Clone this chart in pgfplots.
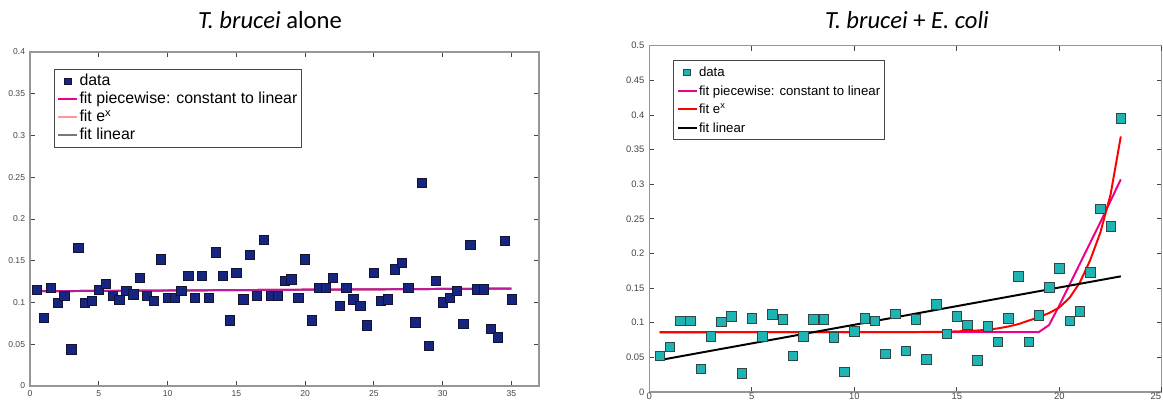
\documentclass[border=0pt]{standalone}
\usepackage{fontspec}
\setmainfont{Liberation Sans}
\newfontfamily\titlefont{Carlito}
\usepackage{pgfplots}
\pgfplotsset{compat=1.18}

\definecolor{axgray}{RGB}{150,150,150}
\definecolor{labgray}{RGB}{70,70,70}
\definecolor{navyfill}{RGB}{22,38,128}
\definecolor{navyedge}{RGB}{20,20,50}
\definecolor{tealfill}{RGB}{30,180,180}
\definecolor{tealedge}{RGB}{50,70,70}
\definecolor{fitmix}{RGB}{188,28,152}
\definecolor{fitpink}{RGB}{255,150,150}
\definecolor{fitgray}{RGB}{120,120,120}
\definecolor{fitred}{RGB}{255,0,0}

\pgfplotsset{
  matlab/.style={
    scale only axis,
    axis line style={draw=axgray, line width=0.8pt},
    tick style={draw=labgray, line width=0.6pt},
    major tick length=0.12cm,
    tick align=inside,
    every tick label/.append style={text=labgray},
    /pgf/number format/assume math mode=true,
    /pgf/number format/fixed,
    /pgf/number format/precision=2,
    scaled ticks=false,
    legend cell align=left,
    legend style={draw=labgray, line width=0.6pt, inner sep=2pt},
    legend image code/.code={\draw[#1] (0cm,0cm) -- (0.475cm,0cm);},
  },
  datalegend/.style={legend image code/.code={%
    \draw[#1,mark size=2.4pt] plot coordinates {(0.2375cm,0cm)};}},
}

\begin{document}
\begin{tikzpicture}

% ---- left: T. brucei alone
\begin{axis}[matlab,
  at={(0.75cm,0.4cm)}, anchor=south west,
  width=12.725cm, height=8.35cm,
  xmin=0, xmax=37, ymin=0, ymax=0.4,
  xtick={0,5,...,35},
  ytick={0,0.05,...,0.4},
  tick label style={font=\fontsize{6.1}{7}\selectfont},
  legend style={at={(0.047,0.949)}, anchor=north west,
    font=\fontsize{11.3}{12.8}\selectfont,
    nodes={inner sep=1pt, text height=8.6pt, text depth=2.2pt}},
]
\addplot[only marks, mark=square*, mark size=3.3pt,
  mark options={fill=navyfill, draw=navyedge, line width=0.4pt}, datalegend]
  coordinates {
  (0.5,0.1155)(1,0.082)(1.5,0.1175)(2,0.100)(2.5,0.108)(3,0.044)
  (3.5,0.1655)(4,0.100)(4.5,0.102)(5,0.1155)(5.5,0.122)(6,0.108)
  (6.5,0.1036)(7,0.114)(7.5,0.110)(8,0.130)(8.5,0.108)(9,0.102)
  (9.5,0.1516)(10,0.106)(10.5,0.106)(11,0.114)(11.5,0.132)(12,0.106)
  (12.5,0.132)(13,0.106)(13.5,0.160)(14,0.132)(14.5,0.0786)(15,0.1357)
  (15.5,0.104)(16,0.1575)(16.5,0.108)(17,0.1754)(17.5,0.108)(18,0.108)
  (18.5,0.126)(19,0.1278)(19.5,0.106)(20,0.1516)(20.5,0.0786)(21,0.1179)
  (21.5,0.1179)(22,0.1298)(22.5,0.0964)(23,0.1179)(23.5,0.104)(24,0.0964)
  (24.5,0.0726)(25,0.1357)(25.5,0.102)(26,0.104)(26.5,0.1397)(27,0.1476)
  (27.5,0.1179)(28,0.0762)(28.5,0.243)(29,0.0484)(29.5,0.126)(30,0.1004)
  (30.5,0.106)(31,0.114)(31.5,0.0742)(32,0.1694)(32.5,0.1159)(33,0.1159)
  (33.5,0.0683)(34,0.0583)(34.5,0.1742)(35,0.104)};
\addlegendentry{data}
\addplot[magenta, line width=1.4pt] coordinates {(0.5,0.1135)(35,0.1167)};
\addlegendentry{fit piecewise: constant to linear}
\addplot[fitpink, line width=1.4pt] coordinates {(0.5,0.1135)(35,0.1167)};
\addlegendentry{fit e\textsuperscript{x}}
\addplot[fitgray, line width=1.1pt] coordinates {(0.5,0.1135)(35,0.1167)};
\addlegendentry{fit linear}
% the three fits coincide; seen together they look purple-magenta
\addplot[fitmix, line width=1.4pt, forget plot] coordinates {(0.5,0.1135)(35,0.1167)};
\end{axis}

% ---- right: T. brucei + E. coli
\begin{axis}[matlab,
  at={(16.2325cm,0.25cm)}, anchor=south west,
  width=12.8125cm, height=8.6575cm,
  xmin=0, xmax=25, ymin=0, ymax=0.5,
  xtick={0,5,...,20},
  extra x ticks={25},
  extra x tick style={xticklabel style={anchor=north east}},
  ytick={0,0.05,...,0.5},
  tick label style={font=\fontsize{6.7}{8}\selectfont},
  xticklabel style={inner sep=0.3pt},
  legend style={at={(0.047,0.959)}, anchor=north west,
    font=\fontsize{9.4}{12.8}\selectfont,
    nodes={inner sep=1pt, text height=8.8pt, text depth=2.35pt}},
]
\addplot[only marks, mark=square*, mark size=3.4pt,
  mark options={fill=tealfill, draw=tealedge, line width=0.4pt}, datalegend]
  coordinates {
  (0.5,0.0524)(1,0.0654)(1.5,0.1029)(2,0.1029)(2.5,0.0336)(3,0.0808)
  (3.5,0.1015)(4,0.1092)(4.5,0.0274)(5,0.1063)(5.5,0.0808)(6,0.1125)
  (6.5,0.1049)(7,0.0524)(7.5,0.0808)(8,0.1049)(8.5,0.1049)(9,0.0794)
  (9.5,0.0289)(10,0.0876)(10.5,0.1063)(11,0.1029)(11.5,0.0553)(12,0.113)
  (12.5,0.0592)(13,0.1049)(13.5,0.0472)(14,0.1265)(14.5,0.0842)(15,0.1092)
  (15.5,0.0972)(16,0.0457)(16.5,0.0945)(17,0.0726)(17.5,0.1068)(18,0.167)
  (18.5,0.0726)(19,0.111)(19.5,0.1515)(20,0.1785)(20.5,0.1029)(21,0.1169)
  (21.5,0.1732)(22,0.2645)(22.5,0.239)(23,0.3954)};
\addlegendentry{data}
\addplot[magenta, line width=1.4pt] coordinates {
  (0.5,0.0865)(19,0.0865)(19.5,0.0967)(20,0.125)(20.5,0.155)(21,0.185)
  (21.5,0.215)(22,0.245)(22.5,0.276)(23,0.307)};
\addlegendentry{fit piecewise: constant to linear}
\addplot[fitred, line width=1.4pt] coordinates {
  (0.5,0.0862)(12,0.0864)(14,0.0868)(15,0.0875)(16,0.0888)(16.5,0.0900)
  (17,0.0918)(17.5,0.0945)(18,0.098)(18.5,0.103)(19,0.108)(19.5,0.114)
  (20,0.122)(20.5,0.136)(21,0.158)(21.5,0.190)(22,0.230)(22.5,0.285)(23,0.369)};
\addlegendentry{fit e\textsuperscript{x}}
\addplot[black, line width=1.4pt] coordinates {(0.5,0.046)(23,0.167)};
\addlegendentry{fit linear}
\end{axis}

\node[font=\titlefont\fontsize{17.5}{20}\selectfont] at (6.75cm,9.55cm)
  {\textit{T. brucei} alone};
\node[font=\titlefont\fontsize{17.5}{20}\selectfont] at (22.675cm,9.55cm)
  {\textit{T. brucei} + \textit{E. coli}};

\pgfresetboundingbox
\useasboundingbox (0,0) rectangle (29.075cm,10.05cm);
\end{tikzpicture}
\end{document}
